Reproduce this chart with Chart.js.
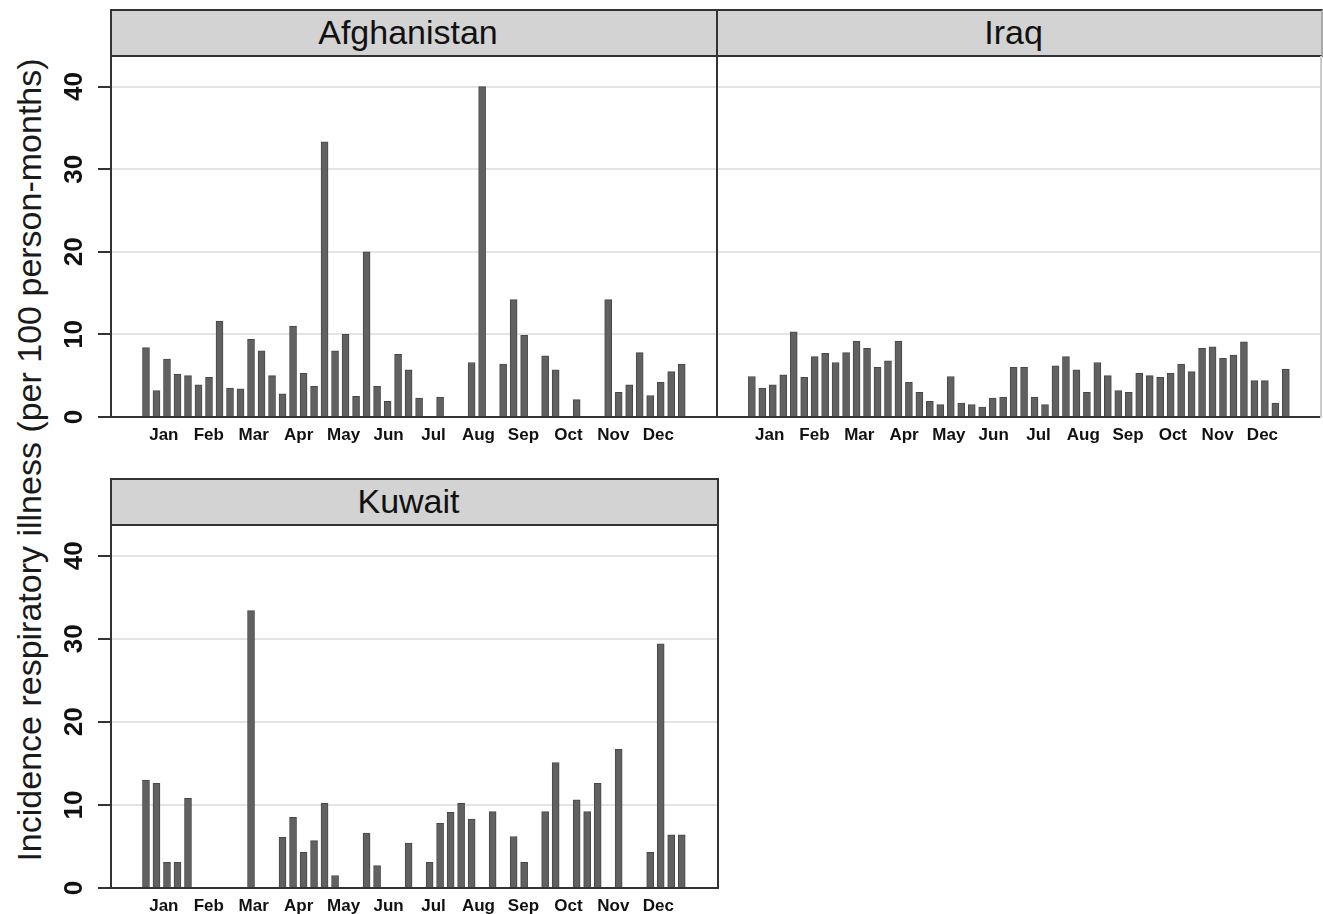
<!DOCTYPE html>
<html>
<head>
<meta charset="utf-8">
<script src="https://cdn.jsdelivr.net/npm/chart.js@4"></script>
<style>
  body { margin: 0; background: #fff; width: 1323px; height: 914px; position: relative; overflow: hidden;
         font-family: "Liberation Sans", Arial, sans-serif; }
  canvas { position: absolute; }
  .strip { position: absolute; box-sizing: border-box; background: #d3d3d3; border: 2px solid #333;
           font-size: 34px; color: #111; text-align: center; line-height: 42px; padding-right: 12px; }
  .vline { position: absolute; width: 2px; background: #333; }
  #ytitle { position: absolute; left: 29px; top: 460px; transform: translate(-50%, -50%) rotate(-90deg);
            white-space: nowrap; font-size: 34px; color: #1a1a1a; }
</style>
</head>
<body>
<div id="ytitle">Incidence respiratory illness (per 100 person-months)</div>

<canvas id="afg" width="717" height="400" style="left:0;top:56px"></canvas>
<canvas id="irq" width="606" height="400" style="left:717px;top:56px"></canvas>
<canvas id="kwt" width="717" height="400" style="left:0;top:525px"></canvas>

<div class="strip" style="left:110px;top:9px;width:608px;height:48px">Afghanistan</div>
<div class="strip" style="left:716px;top:9px;width:607px;height:48px;border-right-color:#aaa">Iraq</div>
<div class="strip" style="left:110px;top:478px;width:609px;height:48px">Kuwait</div>
<div class="vline" style="left:716px;top:56px;height:362px"></div>
<div class="vline" style="left:1320px;top:56px;height:362px;background:#ccc"></div>
<div class="vline" style="left:717px;top:525px;height:364px"></div>

<script>
// months shown on the x axis
const months = ['Jan', 'Feb', 'Mar', 'Apr', 'May', 'Jun', 'Jul', 'Aug', 'Sep', 'Oct', 'Nov', 'Dec'];
const yTickLabels = ['0', '10', '20', '30', '40'];
const yTicks = [0, 10, 20, 30, 40];

// weekly incidence, 52 weeks (null = no bar)
const afghanistan = [8.4, 3.2, 7.0, 5.2, 5.0, 3.9, 4.8, 11.6, 3.5, 3.4, 9.4, 8.0, 5.0,
  2.8, 11.0, 5.3, 3.7, 33.3, 8.0, 10.0, 2.5, 20.0, 3.7, 1.9, 7.6, 5.7,
  2.3, null, 2.4, null, null, 6.6, 40.0, null, 6.4, 14.2, 9.9, null, 7.4,
  5.7, null, 2.1, null, null, 14.2, 3.0, 3.9, 7.8, 2.6, 4.2, 5.5, 6.4];

const iraq = [4.9, 3.5, 3.9, 5.1, 10.3, 4.8, 7.3, 7.7, 6.6, 7.8, 9.2, 8.3, 6.0,
  6.8, 9.2, 4.2, 3.0, 1.9, 1.5, 4.9, 1.7, 1.5, 1.2, 2.3, 2.4, 6.0,
  6.0, 2.4, 1.5, 6.2, 7.3, 5.7, 3.0, 6.6, 5.0, 3.2, 3.0, 5.3, 5.0,
  4.8, 5.3, 6.4, 5.5, 8.3, 8.5, 7.1, 7.5, 9.1, 4.4, 4.4, 1.7, 5.8];

const kuwait = [13.0, 12.6, 3.1, 3.1, 10.8, null, null, null, null, null, 33.4, null, null,
  6.1, 8.5, 4.3, 5.7, 10.2, 1.5, null, null, 6.6, 2.7, null, null, 5.4,
  null, 3.1, 7.8, 9.1, 10.2, 8.3, null, 9.2, null, 6.2, 3.1, null, 9.2,
  15.1, null, 10.6, 9.2, 12.6, null, 16.7, null, null, 4.3, 29.4, 6.4, 6.4];

const FONT = '"Liberation Sans", Arial, sans-serif';

// y tick labels are rotated, Chart.js can't do that on a vertical axis
const rotTicks = {
  id: 'rotTicks',
  afterDraw(chart, args, opts) {
    if (!opts.show) return;
    const y = chart.scales.y, ctx = chart.ctx;
    ctx.save();
    ctx.fillStyle = '#111';
    ctx.font = 'bold 26px ' + FONT;
    ctx.textAlign = 'center';
    ctx.textBaseline = 'middle';
    y.ticks.forEach((t, i) => {
      ctx.save();
      ctx.translate(75, y.getPixelForValue(t.value));
      ctx.rotate(-Math.PI / 2);
      ctx.fillText(yTickLabels[i], 0, 0);
      ctx.restore();
    });
    ctx.restore();
  }
};

function makeChart(id, values, showY, axisH) {
  return new Chart(document.getElementById(id), {
    type: 'bar',
    data: {
      datasets: [{
        data: values.map((v, i) => ({ x: i, y: v })),
        backgroundColor: '#616161',
        borderColor: '#474747',
        borderWidth: 1,
        borderSkipped: 'start',
        barThickness: 7
      }]
    },
    options: {
      responsive: false,
      animation: false,
      layout: { padding: { left: 0, right: showY ? 0 : 2, top: 0, bottom: 0 } },
      plugins: { legend: { display: false }, tooltip: { enabled: false }, rotTicks: { show: showY } },
      scales: {
        x: {
          type: 'linear', min: -3.33, max: 54.36, offset: false,
          grid: { display: false, drawTicks: false },
          border: { display: true, color: '#333', width: 2 },
          afterBuildTicks: s => { s.ticks = months.map((m, i) => ({ value: 1.7 + 4.279 * i })); },
          ticks: {
            autoSkip: false, maxRotation: 0, minRotation: 0, padding: 8, color: '#111',
            font: { family: FONT, size: 17, weight: 'bold' },
            callback: (v, i) => months[i]
          },
          afterFit: s => { s.height = axisH; }
        },
        y: {
          min: 0, max: 43.7,
          afterBuildTicks: s => { s.ticks = yTicks.map(v => ({ value: v })); },
          grid: {
            color: c => c.tick && c.tick.value === 0 ? 'rgba(0,0,0,0)' : '#e4e4e4',
            lineWidth: 2, drawTicks: showY, tickLength: 13, tickColor: '#333', tickWidth: 2
          },
          border: { display: showY, color: '#333', width: 2 },
          ticks: { display: false },
          afterFit: s => { s.width = showY ? 111 : 0; }
        }
      }
    },
    plugins: [rotTicks]
  });
}

makeChart('afg', afghanistan, true, 39);
makeChart('irq', iraq, false, 39);
makeChart('kwt', kuwait, true, 37);
</script>
</body>
</html>
